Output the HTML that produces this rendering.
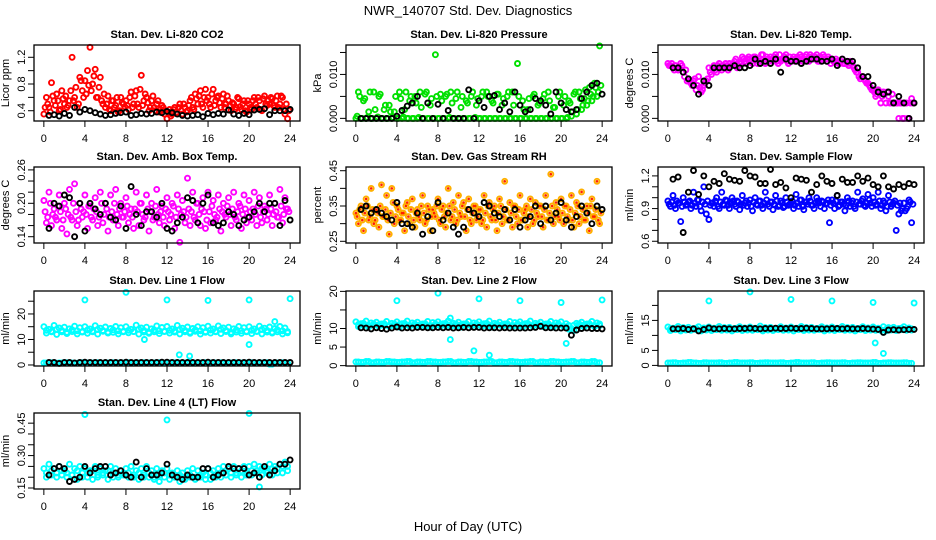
<!DOCTYPE html>
<html><head><meta charset="utf-8"><style>
html,body{margin:0;padding:0;background:#fff;}
svg{display:block;font-family:"Liberation Sans",Arial,sans-serif;}
</style></head><body>
<svg id="chart" width="936" height="540" viewBox="0 0 936 540" xmlns="http://www.w3.org/2000/svg">
<rect width="936" height="540" fill="#fff"/>
<text x="468" y="15" font-size="13" text-anchor="middle">NWR_140707  Std. Dev. Diagnostics</text>
<text x="468" y="531" font-size="13" text-anchor="middle">Hour of Day (UTC)</text>
</svg>
<script>
const xTicks = [0,4,8,12,16,20,24];

const co2Color = [0.35,0.6,0.45,0.82,0.55,0.65,0.4,0.7, 0.5,0.45,0.55,1.2,0.6,0.45,0.9,0.7, 0.85,1.0,1.35,0.8,1.02,0.6,0.9,0.5, 0.45,0.62,0.4,0.55,0.48,0.38,0.6,0.5, 0.55,0.42,0.68,0.5,0.7,0.45,0.93,0.55, 0.6,0.4,0.55,0.45,0.5,0.38,0.48,0.35, 0.28,0.42,0.35,0.45,0.38,0.5,0.35,0.45, 0.4,0.55,0.45,0.65,0.5,0.7,0.45,0.72, 0.6,0.45,0.72,0.55,0.62,0.45,0.65,0.5, 0.55,0.4,0.5,0.45,0.58,0.42,0.55,0.38, 0.5,0.42,0.6,0.45,0.55,0.4,0.62,0.48, 0.5,0.58,0.45,0.62,0.5,0.6,0.35,0.28];
const co2ColorB = [.45,.5,.38,.62,.48,.55,.42,.58, .62,.48,.7,.55,.75,.5,.85,.6, .65,.78,.7,.92,.6,.75,.55,.65, .5,.42,.55,.45,.6,.4,.52,.46, .48,.6,.45,.62,.5,.72,.48,.65, .52,.45,.62,.4,.55,.42,.45,.4, .38,.32,.42,.36,.45,.4,.5,.38, .48,.6,.42,.58,.62,.5,.6,.55, .5,.65,.48,.6,.52,.58,.45,.62, .48,.52,.42,.6,.46,.5,.4,.55, .45,.55,.5,.6,.42,.58,.5,.55, .6,.48,.55,.45,.62,.42,.5,.4];
const co2Black = [0.33,0.34,0.32,0.36,0.33,0.45,0.38,0.42,0.40,0.37,0.35,0.33,0.34,0.36,0.37,0.38,0.33,0.34,0.36,0.35,0.36,0.38,0.37,0.39,0.37,0.35,0.33,0.32,0.33,0.34,0.31,0.36,0.34,0.36,0.35,0.41,0.35,0.33,0.36,0.34,0.41,0.42,0.43,0.34,0.40,0.40,0.40,0.42];

const presColor = [0,0.006,0,0.004,0,0.0015,0,0.006,0,0.005,0,0.002,0,0.003,0,0.0015, 0,0.006,0,0.002,0,0.004,0,0.005,0,0.006,0,0.0055,0,0.003,0,0.0145, 0,0.0055,0,0.005,0,0.006,0,0.0045,0,0.0025,0,0.004,0,0.005,0,0.003, 0,0.005,0,0.006,0,0.004,0,0.0055,0,0.003,0,0.005,0,0.006,0,0.0125, 0,0.004,0,0.002,0,0.005,0,0.003,0,0.0045,0,0.006,0,0.0025,0,0.005, 0,0.003,0,0.004,0.0005,0.0055,0.001,0.006,0.002,0.0045,0.003,0.007,0.004,0.008,0.005,0.0165];
const presColorB = [0.0005,0.005,0,0.0045,0.0002,0.006,0,0.002, 0.0003,0.0055,0,0.003,0,0.0015,0.0002,0.005, 0,0.0045,0.0003,0.006,0,0.005,0,0.0035, 0.0002,0.0025,0,0.006,0,0.0045,0,0.005, 0,0.004,0,0.0055,0.0002,0.0035,0,0.006, 0,0.005,0,0.0035,0,0.006,0.0002,0.0045, 0,0.006,0,0.005,0,0.0035,0,0.0055, 0,0.0045,0,0.006,0,0.003,0,0.005, 0,0.002,0,0.0045,0,0.0055,0,0.0035, 0,0.0055,0,0.004,0,0.0025,0,0.006, 0,0.005,0.0002,0.0035,0.0015,0.006,0.002,0.0045, 0.003,0.0065,0.004,0.0055,0.005,0.007,0.006,0.0075];
const presBlack = [0,0,0,0,0,0,0,0.0005,0.0018,0.0028,0.0035,0.005,0,0.0035,0,0.0032,0,0.0018,0,0,0,0.0065,0,0.004,0.0025,0.005,0.0052,0.002,0.0035,0.0015,0.006,0.003,0.0015,0.002,0.0045,0.004,0.003,0.001,0.006,0.0035,0.002,0.0015,0.002,0.0045,0.006,0.0075,0.008,0.0055];

const tempColor = [.0125,.012,.0115,.012,.011,.0125,.0105,.011, .009,.008,.0085,.0065,.0095,.006,.0075,.0085, .0115,.01,.012,.0105,.0125,.011,.012,.0115, .0125,.012,.013,.0115,.0125,.014,.013,.0135, .0135,.0125,.014,.0125,.013,.0145,.0125,.0135, .014,.013,.0145,.0125,.013,.0135,.0145,.0125, .013,.014,.0135,.013,.014,.0135,.0145,.013, .014,.0135,.0145,.013,.0135,.014,.013,.0135, .0135,.013,.013,.0125,.0135,.0125,.0125,.013, .012,.011,.0105,.009,.0095,.0085,.008,.007, .0065,.005,.0065,.0035,.006,.0035,.005,.0035, .0035,.0035,0,.0035,0,.0035,0,.0045];
const tempColorB = [.012,.0125,.011,.0115,.0115,.012,.0095,.0085, .0085,.0075,.009,.0075,.007,.0065,.008,.009, .0105,.0115,.011,.012,.0115,.012,.0125,.011, .012,.0125,.0135,.012,.013,.0135,.0125,.014, .013,.014,.0135,.013,.0145,.013,.014,.013, .0135,.014,.013,.0145,.0135,.014,.013,.014, .0135,.013,.014,.0145,.013,.014,.0135,.0145, .0135,.014,.013,.014,.0145,.0135,.014,.0125, .013,.0135,.0125,.013,.0125,.013,.012,.0125, .0115,.0105,.0095,.0095,.009,.008,.0075,.0065, .006,.0055,.006,.005,.0055,.006,.0035,.0055, .0035,.0035,.0035,0,.0035,0,.0035,.0035];
const tempBlack = [.0115,.0115,.0105,.009,.0075,.0055,.0085,.0075,.0115,.0115,.0115,.0115,.012,.0115,.0115,.012,.0135,.0125,.013,.0125,.0135,.0105,.0135,.013,.013,.0125,.013,.0135,.0135,.013,.013,.0135,.012,.0135,.013,.013,.0115,.0095,.0095,.0075,.006,.0055,.006,.0035,.005,.0035,0,.0035];

const ambColor = [.205,.165,.22,.16,.19,.17,.215,.155, .2,.145,.225,.17,.235,.16,.2,.175, .215,.155,.195,.17,.21,.16,.22,.165, .2,.15,.215,.17,.225,.16,.2,.175, .21,.165,.19,.155,.22,.16,.2,.17, .215,.15,.2,.175,.225,.165,.195,.16, .21,.17,.2,.155,.215,.13,.205,.165, .245,.16,.22,.17,.2,.16,.21,.155, .22,.165,.205,.17,.215,.15,.2,.175, .21,.16,.22,.17,.2,.155,.215,.165, .205,.17,.22,.16,.21,.165,.195,.17, .215,.16,.2,.175,.225,.165,.21,.19];
const ambColorB = [.185,.175,.2,.18,.175,.195,.185,.17, .19,.18,.175,.2,.185,.17,.19,.185, .18,.195,.175,.19,.185,.175,.2,.18, .19,.175,.185,.2,.18,.19,.175,.185, .195,.18,.175,.19,.185,.2,.18,.175, .19,.185,.17,.195,.18,.185,.175,.19, .185,.18,.195,.175,.19,.18,.185,.175, .19,.185,.175,.2,.18,.19,.185,.17, .185,.195,.18,.175,.19,.185,.18,.195, .18,.19,.175,.185,.195,.18,.19,.175, .185,.19,.18,.195,.175,.185,.19,.18, .19,.18,.185,.175,.195,.18,.19,.185];
const ambBlack = [.155,.2,.195,.215,.21,.14,.2,.15,.2,.19,.18,.2,.175,.17,.195,.155,.23,.18,.16,.185,.185,.175,.2,.155,.15,.165,.175,.21,.205,.165,.2,.215,.165,.16,.165,.185,.18,.16,.17,.175,.185,.2,.185,.2,.2,.16,.205,.17];

const rhColor = [.33,.3,.35,.28,.37,.31,.4,.3, .34,.29,.41,.32,.38,.27,.4,.3, .35,.31,.33,.28,.36,.3,.37,.29, .34,.31,.38,.3,.35,.28,.34,.32, .37,.3,.35,.29,.4,.31,.36,.3, .38,.32,.36,.28,.37,.3,.35,.31, .34,.3,.38,.29,.36,.31,.35,.28, .37,.3,.42,.31,.36,.29,.35,.3, .38,.31,.34,.29,.37,.3,.36,.32, .35,.29,.38,.31,.44,.3,.36,.32, .37,.3,.35,.31,.38,.29,.36,.3, .39,.31,.35,.28,.37,.32,.42,.3];
const rhColorB = [.32,.34,.31,.33,.35,.32,.34,.31, .33,.35,.32,.34,.31,.33,.36,.32, .34,.31,.33,.35,.32,.34,.31,.33, .32,.35,.33,.31,.34,.32,.33,.35, .31,.34,.32,.33,.35,.32,.34,.31, .33,.35,.32,.34,.31,.33,.35,.32, .34,.31,.33,.35,.32,.34,.31,.33, .35,.32,.34,.31,.33,.35,.32,.34, .31,.33,.35,.32,.34,.31,.33,.35, .32,.34,.31,.33,.35,.32,.34,.31, .33,.35,.32,.34,.31,.33,.35,.32, .34,.31,.33,.35,.32,.34,.31,.33];
const rhBlack = [.34,.35,.33,.34,.33,.32,.31,.36,.3,.3,.29,.33,.27,.32,.28,.36,.31,.33,.29,.27,.29,.34,.33,.32,.36,.35,.33,.32,.34,.31,.34,.29,.31,.32,.35,.3,.35,.31,.33,.36,.31,.29,.32,.35,.33,.3,.35,.34];

const flowColor = [.97,.92,1.02,.9,.95,.78,1.0,.93, .96,.9,1.05,.92,.98,.88,1.1,.85, .8,.95,.92,1.0,.9,1.05,.93,.97, .9,1.0,.94,.97,.89,1.02,.95,.92, .98,.88,1.0,.93,.97,.9,1.05,.94, .96,.89,1.02,.92,.97,.91,1.0,.93, .95,.9,1.03,.92,.98,.89,.96,1.0, .93,.9,1.0,.95,.97,.9,.95,.77, .98,.9,1.02,.93,.96,.88,1.0,.92, .97,.9,1.05,.94,.99,.92,1.03,.95, 1.0,.93,1.05,.9,.97,.88,1.02,.92, .95,.7,.85,.88,.95,.9,.98,.77];
const flowColorB = [.94,.96,.93,.97,.95,.92,.96,.94, .97,.93,.95,.98,.92,.96,.94,.97, .93,.95,.97,.92,.96,.94,.98,.93, .95,.97,.92,.96,.94,.93,.97,.95, .92,.96,.94,.97,.93,.95,.98,.92, .96,.94,.97,.93,.95,.92,.96,.94, .97,.93,.95,.98,.92,.96,.94,.97, .93,.95,.97,.92,.96,.94,.98,.93, .95,.97,.92,.96,.94,.93,.97,.95, .92,.96,.94,.97,.93,.95,.98,.92, .96,.94,.97,.93,.95,.92,.96,.94, .97,.93,.95,.9,.88,.92,.96,.94];
const flowBlack = [1.17,1.19,.68,1.05,1.25,1.03,1.2,1.1,1.15,1.13,1.22,1.17,1.16,1.15,1.25,1.2,1.19,1.13,1.13,1.26,1.12,1.14,1.09,1.0,1.18,1.17,1.16,1.05,1.12,1.2,1.15,1.13,1.02,1.17,1.14,1.14,1.2,1.15,1.18,1.12,1.1,1.2,1.1,1.08,1.12,1.1,1.13,1.12];

const line1Band = [15,12.5,14,13,15.5,12,14.5,13, 14.8,12.3,14.2,13.1,15.2,12.2,14.6,12.9, 15,12.4,14.1,13,15.4,12.1,14.4,13.2, 14.9,12.5,14.3,12.8,15.1,12.2,14.6,13, 15,12.6,14,13.1,15.6,12.1,14.5,12.9, 14.8,12.4,14.2,13,15.3,12.3,14.7,13.1, 15.1,12.5,14.1,12.9,15.5,12.2,14.4,13, 14.9,12.4,14.3,13.2,15,12.1,14.6,12.8, 15.2,12.5,14.1,13,15.3,12.3,14.5,13.1, 14.8,12.2,14.2,12.9,15.1,12.4,14.6,13, 15,12.3,14.1,13.1,15.2,12.2,14.4,12.9, 14.9,12.5,14.3,13,15.1,12.2,14.5,12.6];
const line1BandB = [13.6,13.2,14,13.5,12.8,13.8,13.4,13.1,13.7,13.3,13.9,13.5,12.9,13.8,13.4,13.2,13.6,13.1,14,13.5,12.8,13.7,13.4,13.2,13.6,13.3,13.9,13.5,12.9,13.8,13.4,13.1,13.7,13.2,14,13.5,12.8,13.7,13.4,13.2,13.6,13.3,13.9,13.5,12.9,13.8,13.4,13.1];
const line1Low = [0.8,0.9,0.7,0.8,0.9,0.8,0.7,0.9,0.8,0.8,0.9,0.7,0.8,0.9,0.8,0.8,0.9,0.7,0.8,0.9,0.8,0.8,0.9,0.7,0.8,0.9,0.8,0.8,0.9,0.7,0.8,0.9,0.8,0.8,0.9,0.7,0.8,0.9,0.8,0.8,0.9,0.7,0.8,0.9,0.3,0.8,0.9,0.7];
const line1Black = [1.0,1.0,0.6,1.0,1.0,0.8,1.0,1.1,1.0,1.0,1.0,1.0,1.0,1.0,1.0,1.1,1.0,1.0,1.0,1.0,1.0,1.0,1.1,1.1,1.0,1.0,1.0,1.0,1.0,1.0,1.0,1.1,1.0,1.0,1.0,1.0,1.0,1.0,1.0,1.1,1.0,1.0,1.0,1.0,1.0,1.0,1.0,1.0];
const line1OutHours = [4,8,12,16,20,24,9.8,20,13.2,14.2,22.5];
const line1OutVals = [25.5,28.5,25.5,25.3,25.5,26,10,8,4,3.5,17];

const line2Band = [11.8,10.5,11.3,10.8,12,10.4,11.5,10.9, 11.7,10.6,11.2,10.8,11.9,10.5,11.4,10.7, 11.8,10.4,11.3,10.9,12,10.6,11.5,10.8, 11.7,10.5,11.2,10.7,11.9,10.4,11.6,10.9, 11.8,10.6,11.3,10.8,12,10.5,11.4,10.7, 11.7,10.4,11.2,10.9,11.9,10.6,11.5,10.8, 11.8,10.5,11.3,10.7,12,10.4,11.4,10.9, 11.7,10.6,11.2,10.8,11.9,10.5,11.6,10.7, 11.8,10.4,11.3,10.9,12,10.6,11.4,10.8, 11.7,10.5,11.2,10.7,11.9,10.4,11.5,10.9, 11.8,10.6,11.3,10.8,10,9.5,11.4,10.7, 11.7,10.4,11.2,10.9,11.9,10.5,11.5,10.8];
const line2BandB = [11.1,11.4,10.9,11.2,11.0,11.3,10.8,11.2,11.1,11.4,10.9,11.2,11.0,11.3,10.8,11.2,11.1,11.4,10.9,11.2,11.0,11.3,10.8,11.2,11.1,11.4,10.9,11.2,11.0,11.3,10.8,11.2,11.1,11.4,10.9,11.2,11.0,11.3,10.8,11.2,10.5,9.8,10.9,11.2,11.0,11.3,10.8,11.2];
const line2Low = [1.0,0.9,1.1,0.8,1.0,0.9,1.1,1.0,0.9,1.0,1.1,0.8,1.0,0.9,1.1,1.0,0.9,1.0,1.1,0.8,1.0,0.9,1.1,1.0,0.9,1.0,1.1,0.8,1.0,0.9,1.1,1.0,0.9,1.0,1.1,0.8,1.0,0.9,1.1,1.0,0.9,1.0,1.1,0.8,1.0,0.9,1.1,0.8];
const line2Black = [10.2,10.1,9.9,10.2,10.0,9.8,10.1,10.4,10.1,10.2,10.1,10.3,10.3,10.2,10.2,10.3,10.2,10.3,10.1,10.2,10.3,10.2,10.3,10.3,10.1,10.2,10.2,10.1,10.2,10.1,10.1,10.1,10.1,10.2,10.3,10.6,10.2,10.2,10.1,10.1,10.1,8.2,9.6,10.0,10.1,10.0,10.0,9.9];
const line2OutHours = [4,8,12,16,20,24,9.2,9.2,11.5,13,20.5];
const line2OutVals = [17.5,19.5,18,17.5,17,17.7,12.8,7,4,2.8,6];

const line3Band = [12.8,11.6,12.4,11.9,13,11.5,12.6,11.8, 12.7,11.7,12.3,11.9,12.9,11.5,12.5,11.8, 12.8,11.6,12.4,11.9,13,11.7,12.6,11.8, 12.7,11.5,12.3,11.9,12.9,11.6,12.5,11.8, 12.8,11.7,12.4,11.9,13.1,11.5,12.6,11.8, 12.7,11.6,12.3,11.9,12.9,11.7,12.5,11.8, 12.8,11.5,12.4,11.9,13,11.6,12.6,11.8, 12.7,11.7,12.3,11.9,12.9,11.5,12.5,11.8, 12.8,11.6,12.4,11.9,13,11.7,12.6,11.8, 12.7,11.5,12.3,11.9,12.9,11.6,12.5,11.8, 12.8,11.7,12.4,11.9,12.9,11.5,12.6,11.8, 12.7,11.6,12.3,11.9,12.9,11.7,12.5,11.8];
const line3BandB = [12.2,12.4,12.0,12.3,12.1,12.4,11.9,12.2,12.2,12.4,12.0,12.3,12.1,12.4,11.9,12.2,12.2,12.4,12.0,12.3,12.1,12.4,11.9,12.2,12.2,12.4,12.0,12.3,12.1,12.4,11.9,12.2,12.2,12.4,12.0,12.3,12.1,12.4,11.9,12.2,12.2,11.6,12.0,12.3,12.1,12.4,11.9,12.2];
const line3Low = [0.8,0.9,0.7,0.8,1.0,0.8,0.7,0.9,0.8,0.8,0.9,0.7,0.8,1.0,0.8,0.8,0.9,0.7,0.8,0.9,0.8,0.8,0.9,0.7,0.8,1.0,0.8,0.8,0.9,0.7,0.8,0.9,0.8,0.8,0.9,0.7,0.8,0.9,0.8,0.8,1.0,0.7,0.8,0.9,0.8,0.8,0.9,0.7];
const line3Black = [12.2,12.2,12.3,12.0,12.2,11.5,12.0,12.5,12.2,12.2,12.3,12.2,12.2,12.3,12.3,12.4,12.3,12.2,12.3,12.3,12.4,12.3,12.3,12.4,12.3,12.3,12.4,12.3,12.2,12.2,12.2,12.3,12.3,12.2,12.3,12.2,12.2,12.3,12.2,12.1,12.0,11.0,11.8,11.9,11.8,11.9,12.0,12.0];
const line3OutHours = [4,8,12,16,20,24,20.2,21];
const line3OutVals = [21.5,24.5,22,21.5,21,20.8,7.5,4];

const line4Band = [.24,.2,.26,.21,.24,.2,.25,.21, .23,.2,.26,.21,.24,.19,.25,.2, .24,.2,.23,.19,.25,.2,.24,.21, .23,.19,.25,.2,.24,.2,.23,.21, .24,.2,.25,.2,.23,.19,.24,.2, .25,.2,.23,.19,.24,.18,.23,.2, .24,.19,.22,.2,.23,.18,.22,.19, .23,.2,.24,.19,.23,.2,.22,.19, .24,.19,.23,.2,.24,.2,.25,.21, .24,.2,.25,.21,.24,.2,.25,.21, .25,.21,.26,.22,.25,.21,.24,.22, .26,.21,.25,.22,.26,.22,.27,.23];
const line4BandB = [.22,.23,.22,.23,.22,.21,.23,.22,.22,.23,.21,.22,.23,.22,.21,.22,.22,.21,.22,.21,.22,.2,.21,.22,.21,.2,.21,.2,.21,.2,.21,.21,.22,.21,.22,.21,.22,.22,.23,.22,.23,.23,.24,.23,.24,.24,.25,.25];
const line4Black = [.21,.24,.25,.24,.18,.19,.2,.25,.22,.24,.25,.25,.21,.22,.23,.21,.2,.27,.2,.24,.21,.21,.22,.26,.21,.2,.19,.21,.2,.2,.24,.24,.2,.21,.22,.25,.24,.24,.24,.21,.22,.2,.25,.21,.23,.26,.26,.28];
const line4OutHours = [4,12,20,21];
const line4OutVals = [.49,.465,.495,.155];

const svg = document.getElementById('chart');
const NS = 'http://www.w3.org/2000/svg';
function el(tag, attrs){ const e = document.createElementNS(NS, tag); for (const k in attrs) e.setAttribute(k, attrs[k]); svg.appendChild(e); return e; }

const cols = [34, 346, 658];
const rows = [45, 167, 291, 413];
const W = 266;
const H = [76, 76, 75, 76];

const panels = [
 {name:'co2', title:'Stan. Dev. Li-820 CO2', c:0, r:0, ylab:'Licor ppm', ylim:[0.246,1.384], ticks:[0.4,0.6,0.8,1.0,1.2], labs:[0.4,0.8,1.2], fmt:1, color:'#ff0000', band:co2Color, bandB:co2ColorB, black:co2Black},
 {name:'pressure', title:'Stan. Dev. Li-820 Pressure', c:1, r:0, ylab:'kPa', ylim:[-0.0006,0.0167], ticks:[0,0.005,0.01,0.015], labs:[0,0.01], fmt:3, color:'#00e000', band:presColor, bandB:presColorB, black:presBlack},
 {name:'temp', title:'Stan. Dev. Li-820 Temp.', c:2, r:0, ylab:'degrees C', ylim:[-0.0006,0.0167], ticks:[0,0.005,0.01,0.015], labs:[0,0.01], fmt:3, color:'#ff00ff', band:tempColor, bandB:tempColorB, black:tempBlack},
 {name:'amb-box-temp', title:'Stan. Dev. Amb. Box Temp.', c:0, r:1, ylab:'degrees C', ylim:[0.1287,0.2652], ticks:[0.14,0.16,0.18,0.2,0.22,0.24,0.26], labs:[0.14,0.2,0.26], fmt:2, color:'#ff00ff', band:ambColor, bandB:ambColorB, black:ambBlack},
 {name:'gas-rh', title:'Stan. Dev. Gas Stream RH', c:1, r:1, ylab:'percent', ylim:[0.2452,0.4605], ticks:[0.25,0.3,0.35,0.4,0.45], labs:[0.25,0.35,0.45], fmt:2, color:'#ffb000', band:rhColor, bandB:rhColorB, black:rhBlack},
 {name:'sample-flow', title:'Stan. Dev. Sample Flow', c:2, r:1, ylab:'ml/min', ylim:[0.584,1.2817], ticks:[0.6,0.7,0.8,0.9,1.0,1.1,1.2], labs:[0.6,0.9,1.2], fmt:1, color:'#0000ff', band:flowColor, bandB:flowColorB, black:flowBlack},
 {name:'line1-flow', title:'Stan. Dev. Line 1 Flow', c:0, r:2, ylab:'ml/min', ylim:[-0.4,29], ticks:[0,5,10,15,20,25], labs:[0,10,20], fmt:0, color:'#00ffff', band:line1Band, bandB:line1BandB, low:line1Low, black:line1Black, oh:line1OutHours, ov:line1OutVals},
 {name:'line2-flow', title:'Stan. Dev. Line 2 Flow', c:1, r:2, ylab:'ml/min', ylim:[-0.1,20.1], ticks:[0,5,10,15,20], labs:[0,5,10,20], fmt:0, color:'#00ffff', band:line2Band, bandB:line2BandB, low:line2Low, black:line2Black, oh:line2OutHours, ov:line2OutVals},
 {name:'line3-flow', title:'Stan. Dev. Line 3 Flow', c:2, r:2, ylab:'ml/min', ylim:[-0.2,24.8], ticks:[0,5,10,15,20], labs:[0,5,15], fmt:0, color:'#00ffff', band:line3Band, bandB:line3BandB, low:line3Low, black:line3Black, oh:line3OutHours, ov:line3OutVals},
 {name:'line4-flow', title:'Stan. Dev. Line 4 (LT) Flow', c:0, r:3, ylab:'ml/min', ylim:[0.1454,0.497], ticks:[0.15,0.2,0.25,0.3,0.35,0.4,0.45], labs:[0.15,0.3,0.45], fmt:2, color:'#00ffff', band:line4Band, bandB:line4BandB, black:line4Black, oh:line4OutHours, ov:line4OutVals}
];

function point(x, y, color, name){
  const c = el('circle', {cx:x.toFixed(1), cy:y.toFixed(1), r:2.5, fill:'none', stroke:color, 'stroke-width':1.9});
  
  
  return c;
}

panels.forEach(p => {
  const L = cols[p.c], T = rows[p.r], h = H[p.r];
  const xs = t => L + (t + 0.96) / 25.92 * W;
  const ys = v => T + h - (v - p.ylim[0]) / (p.ylim[1] - p.ylim[0]) * h;

  const title = el('text', {x:L + W/2, y:T - 7, 'font-size':11, 'font-weight':'bold', 'text-anchor':'middle'});
  title.textContent = p.title;
  
  

  const yl = el('text', {x:0, y:0, 'font-size':11, 'text-anchor':'middle', transform:`translate(${L-25},${T+h/2}) rotate(-90)`});
  yl.textContent = p.ylab;
  
  

  const nb = p.band.length;
  p.band.forEach((v, i) => { point(xs(i * 24 / nb), ys(v), p.color, p.name + '-point'); });
  const nb2 = p.bandB.length;
  p.bandB.forEach((v, i) => { point(xs(i * 24 / nb2 + 12 / nb2), ys(v), p.color, p.name + '-point'); });
  if (p.low) {
    p.low.forEach((v, i) => { point(xs(i * 0.5 + 0.25), ys(v), p.color, p.name + '-low-point'); });
    p.low.forEach((v, i) => { point(xs(i * 0.5), ys(v), p.color, p.name + '-low-point'); });
  }
  if (p.oh) p.oh.forEach((t, i) => { point(xs(t), ys(p.ov[i]), p.color, p.name + '-outlier'); });
  if (p.name === 'gas-rh') [p.band, p.bandB].forEach((arr, k) => arr.forEach((v, i) => {
    const d = el('circle', {cx:xs(i * 24 / arr.length + k * 12 / arr.length).toFixed(1), cy:ys(v).toFixed(1), r:1.3, fill:'#ff2000'});
    
    
  }));
  p.black.forEach((v, i) => { point(xs((i + 1) * 0.5), ys(v), '#000', p.name + '-reference-point'); });

  const box = el('rect', {x:L, y:T, width:W, height:h, fill:'none', stroke:'#000', 'stroke-width':1.3});
  
  

  xTicks.forEach(t => {
    const tk = el('line', {x1:xs(t), x2:xs(t), y1:T + h, y2:T + h + 6, stroke:'#000', 'stroke-width':1});
    
    
    const lb = el('text', {x:xs(t), y:T + h + 21, 'font-size':11, 'text-anchor':'middle'});
    lb.textContent = t;
    
    
  });
  p.ticks.forEach(v => {
    const tk = el('line', {x1:L - 6, x2:L, y1:ys(v), y2:ys(v), stroke:'#000', 'stroke-width':1});
    
    
  });
  p.labs.forEach(v => {
    const lb = el('text', {x:0, y:0, 'font-size':11, 'text-anchor':'middle', transform:`translate(${L-9},${ys(v)}) rotate(-90)`});
    lb.textContent = v.toFixed(p.fmt);
    
    
  });
});
</script>
</body></html>
